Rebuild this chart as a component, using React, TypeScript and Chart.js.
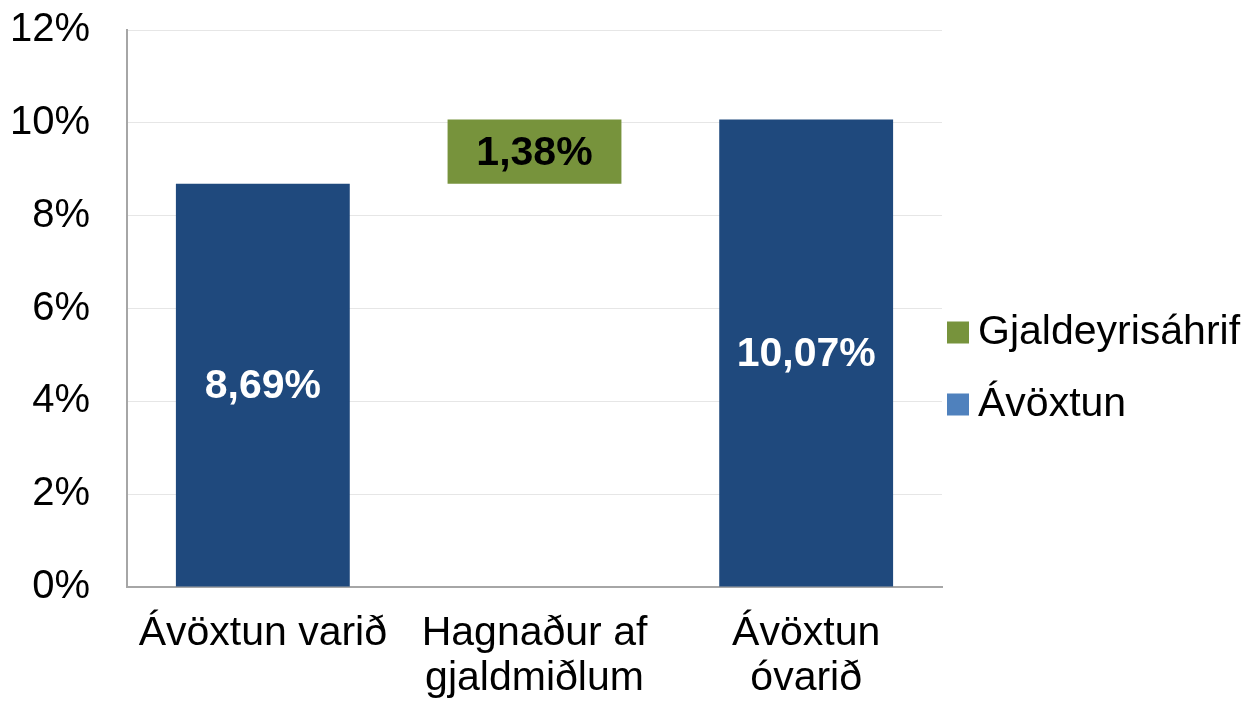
import React, { useEffect, useRef } from "react";
import { Chart, registerables } from "chart.js";

Chart.register(...registerables);

// ---- Data ----
const categories: string[][] = [["Ávöxtun varið"], ["Hagnaður af", "gjaldmiðlum"], ["Ávöxtun", "óvarið"]];
const seriesNames = ["Gjaldeyrisáhrif", "Ávöxtun"];
const avoxtunValues: (number | null)[] = [8.69, null, 10.07];
const gjaldeyrisStart: (number | null)[] = [null, 8.69, null];
const gjaldeyrisEnd: (number | null)[] = [null, 10.07, null];
const yTickValues = [0, 2, 4, 6, 8, 10, 12];

// ---- Styles ----
const FONT = "'Liberation Sans', Arial, Helvetica, sans-serif";
const barColors = ["#77933C", "#1F497D"];
const legendColors = ["#77933C", "#4F81BD"];
const labelColors = ["#000000", "#FFFFFF"];

const fmt = (v: number) => v.toFixed(2).replace(".", ",") + "%";

const dataLabelPlugin = {
  id: "dataLabels",
  afterDatasetsDraw(chart: any) {
    const ctx = chart.ctx;
    chart.data.datasets.forEach((ds: any, di: number) => {
      const meta = chart.getDatasetMeta(di);
      meta.data.forEach((el: any, i: number) => {
        const raw = ds.data[i];
        if (raw == null) return;
        const v = Array.isArray(raw) ? raw[1] - raw[0] : raw;
        const p = el.getProps(["x", "y", "base"], true);
        ctx.save();
        ctx.font = `bold 41px ${FONT}`;
        ctx.fillStyle = labelColors[di];
        ctx.textAlign = "center";
        ctx.textBaseline = "middle";
        ctx.fillText(fmt(v), p.x, (p.y + p.base) / 2 + 2);
        ctx.restore();
      });
    });
  },
};

const LEGEND_BOX = 22;
const LEGEND_GAP = 9;
const LEGEND_STEP = 72;
const LEGEND_OFFSET_X = 5;
const LEGEND_FIRST_DY = 24;

const legendPlugin = {
  id: "customLegend",
  afterDraw(chart: any) {
    const ctx = chart.ctx;
    const { right, top, bottom } = chart.chartArea;
    const mid = (top + bottom) / 2;
    ctx.save();
    ctx.font = `41px ${FONT}`;
    ctx.textAlign = "left";
    ctx.textBaseline = "alphabetic";
    seriesNames.forEach((name, i) => {
      const cy = mid + LEGEND_FIRST_DY + i * LEGEND_STEP;
      const bx = right + LEGEND_OFFSET_X;
      ctx.fillStyle = legendColors[i];
      ctx.fillRect(bx, cy - LEGEND_BOX / 2, LEGEND_BOX, LEGEND_BOX);
      ctx.fillStyle = "#000000";
      ctx.fillText(name, bx + LEGEND_BOX + LEGEND_GAP, cy + LEGEND_BOX / 2);
    });
    ctx.restore();
  },
};

export default function App() {
  const ref = useRef<HTMLCanvasElement | null>(null);

  useEffect(() => {
    if (!ref.current) return;
    Chart.defaults.font.family = FONT;
    const chart = new Chart(ref.current, {
      type: "bar",
      data: {
        labels: categories,
        datasets: [
          {
            label: seriesNames[0],
            data: gjaldeyrisStart.map((s, i) => (s == null ? null : [s, gjaldeyrisEnd[i] as number])) as any,
            backgroundColor: barColors[0],
            borderWidth: 0,
            categoryPercentage: 1,
            barPercentage: 0.64,
          },
          {
            label: seriesNames[1],
            data: avoxtunValues as any,
            backgroundColor: barColors[1],
            borderWidth: 0,
            categoryPercentage: 1,
            barPercentage: 0.64,
          },
        ],
      },
      options: {
        animation: false,
        responsive: false,
        devicePixelRatio: 1,
        layout: { padding: { left: 10, right: 309, top: 30, bottom: 0 } },
        plugins: {
          legend: { display: false },
          tooltip: { enabled: false },
        },
        scales: {
          x: {
            stacked: true,
            grid: { display: false, drawTicks: false },
            border: { display: true, color: "#a6a6a6", width: 2 },
            afterFit: (scale: any) => {
              scale.height = 115;
              scale.paddingLeft = 0;
              scale.paddingRight = 0;
            },
            ticks: {
              color: "#000000",
              font: { family: FONT, size: 41, lineHeight: 1.1 },
              padding: 24,
              maxRotation: 0,
              autoSkip: false,
            },
          },
          y: {
            stacked: false,
            min: yTickValues[0],
            max: yTickValues[yTickValues.length - 1],
            grid: { color: "#e6e6e6", lineWidth: 1, drawTicks: false },
            border: { display: true, color: "#a6a6a6", width: 2 },
            afterBuildTicks: (axis: any) => {
              axis.ticks = yTickValues.map((v) => ({ value: v }));
            },
            afterFit: (scale: any) => {
              scale.width = 117;
              scale.paddingTop = 0;
              scale.paddingBottom = 0;
            },
            ticks: {
              color: "#000000",
              font: { family: FONT, size: 40 },
              padding: 37,
              callback: (v: any) => `${v}%`,
            },
          },
        },
      },
      plugins: [dataLabelPlugin, legendPlugin],
    });
    return () => chart.destroy();
  }, []);

  return (
    <div style={{ position: "absolute", left: 0, top: 0, width: 1251, height: 702, background: "#ffffff" }}>
      <canvas ref={ref} width={1251} height={702} style={{ display: "block" }} />
    </div>
  );
}
